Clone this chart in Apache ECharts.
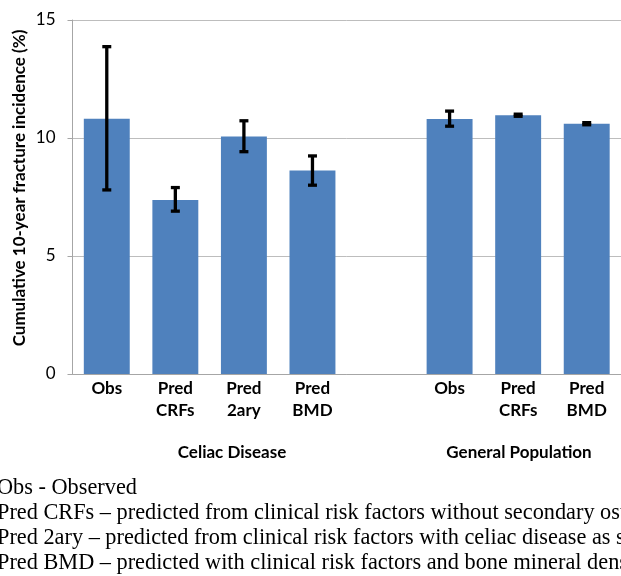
<!DOCTYPE html>
<html>
<head>
<meta charset="utf-8">
<script src="https://cdn.jsdelivr.net/npm/echarts@6/dist/echarts.min.js"></script>
<style>
html,body{margin:0;padding:0;background:#fff;overflow:hidden;}
#chart{width:621px;height:576px;}
</style>
</head>
<body>
<div id="chart"></div>
<script>
const categories = ['Obs', 'Pred\nCRFs', 'Pred\n2ary', 'Pred\nBMD', '', 'Obs', 'Pred\nCRFs', 'Pred\nBMD'];
const values = [10.82, 7.37, 10.06, 8.62, null, 10.8, 10.96, 10.6];
const errLow = [7.8, 6.9, 9.42, 8.0, null, 10.5, 10.92, 10.56];
const errHigh = [13.87, 7.9, 10.73, 9.24, null, 11.14, 11.01, 10.65];
const yTicks = [0, 5, 10, 15];
const groupLabels = ['Celiac Disease', 'General Population'];
const yTitle = 'Cumulative 10-year fracture incidence (%)';
const notes = [
  'Obs - Observed',
  'Pred CRFs \u2013 predicted from clinical risk factors without secondary osteoporosis',
  'Pred 2ary \u2013 predicted from clinical risk factors with celiac disease as secondary osteoporosis',
  'Pred BMD \u2013 predicted with clinical risk factors and bone mineral density'
];

const chart = echarts.init(document.getElementById('chart'), null, {renderer: 'canvas'});
const sans = 'Lato, "Open Sans", sans-serif';
const serif = '"Liberation Serif", "DejaVu Serif", serif';

const errData = categories.map((c, i) => [i, errLow[i], errHigh[i]]).filter(d => d[1] != null);

const graphics = [
  {type: 'text', x: 20, y: 188, rotation: Math.PI / 2,
   style: {text: yTitle, font: 'bold 17px ' + sans, fill: '#000', align: 'center', verticalAlign: 'middle'}},
  {type: 'text', x: 232, y: 453,
   style: {text: groupLabels[0], font: 'bold 17px ' + sans, fill: '#000', align: 'center', verticalAlign: 'middle'}},
  {type: 'text', x: 519, y: 453,
   style: {text: groupLabels[1], font: 'bold 17px ' + sans, fill: '#000', align: 'center', verticalAlign: 'middle'}}
];
notes.forEach((t, i) => {
  graphics.push({type: 'text', x: -3, y: 488 + i * 25,
    style: {text: t, font: '22.3px ' + serif, fill: '#000', align: 'left', verticalAlign: 'middle'}});
});

chart.setOption({
  animation: false,
  backgroundColor: '#fff',
  grid: {left: 72.5, right: -7, top: 20, bottom: 202, containLabel: false},
  xAxis: {
    type: 'category',
    data: categories,
    axisLine: {show: true, lineStyle: {color: '#a6a6a6', width: 1}},
    axisTick: {show: false},
    axisLabel: {interval: 0, margin: 4, color: '#000', fontFamily: sans, fontWeight: 'bold', fontSize: 17, lineHeight: 22}
  },
  yAxis: {
    type: 'value', min: 0, max: 15, interval: 5,
    axisLine: {show: true, lineStyle: {color: '#a6a6a6', width: 1}},
    axisTick: {show: true, length: 5, lineStyle: {color: '#a6a6a6'}},
    axisLabel: {color: '#000', fontFamily: sans, fontSize: 17, margin: 17,
      formatter: v => yTicks.includes(v) ? String(v) : ''},
    splitLine: {show: true, lineStyle: {color: '#bdbdbd', width: 1}}
  },
  series: [
    {
      type: 'bar',
      data: values,
      barWidth: '67%',
      itemStyle: {color: '#4f81bd'}
    },
    {
      type: 'custom',
      data: errData,
      z: 10,
      renderItem: function (params, api) {
        const x = api.value(0);
        const lo = api.coord([x, api.value(1)]);
        const hi = api.coord([x, api.value(2)]);
        const hw = 4.5;
        const st = {stroke: '#000', lineWidth: 3.3};
        return {
          type: 'group',
          children: [
            {type: 'line', shape: {x1: lo[0], y1: lo[1], x2: hi[0], y2: hi[1]}, style: st},
            {type: 'line', shape: {x1: hi[0] - hw, y1: hi[1], x2: hi[0] + hw, y2: hi[1]}, style: st},
            {type: 'line', shape: {x1: lo[0] - hw, y1: lo[1], x2: lo[0] + hw, y2: lo[1]}, style: st}
          ]
        };
      }
    }
  ],
  graphic: graphics
});
</script>
</body>
</html>
